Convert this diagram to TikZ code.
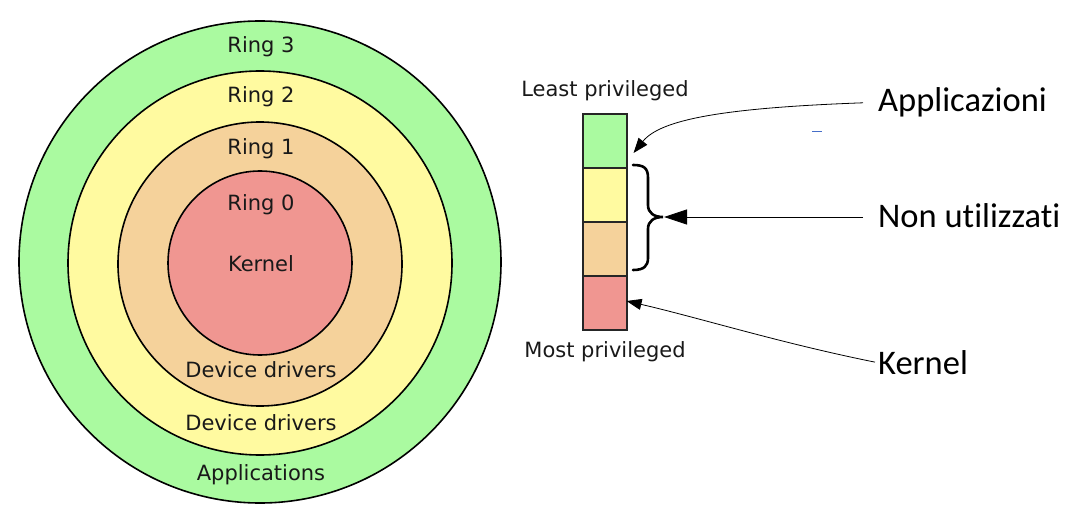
\documentclass[tikz,border=0pt]{standalone}
\usepackage{fontspec}
\setmainfont{DejaVu Sans}
\newfontfamily\labfont[Ligatures=NoCommon]{Carlito}
\usetikzlibrary{arrows.meta}
\definecolor{cgreen}{RGB}{170,250,160}
\definecolor{cyellow}{RGB}{255,250,160}
\definecolor{ctan}{RGB}{245,210,155}
\definecolor{cred}{RGB}{240,150,145}
\definecolor{cdash}{RGB}{70,110,200}
\begin{document}
\begin{tikzpicture}[x=1pt,y=-1pt,
 ring/.style={circle, draw=black, line width=1.6pt, inner sep=0pt},
 ringtext/.style={anchor=base, font=\fontsize{21}{25}\selectfont, text=black!90, inner sep=0pt},
 seg/.style={rectangle, draw=black!85, line width=1.1pt, minimum width=44pt, minimum height=54pt, inner sep=0pt},
 biglab/.style={anchor=base west, font=\labfont\fontsize{34.5}{40}\selectfont, inner sep=0pt},
 pointer/.style={line width=0.8pt, -{Triangle[length=15pt,width=11pt]}},
 bigpointer/.style={line width=0.8pt, -{Triangle[length=23pt,width=15pt]}},
 bracestyle/.style={line width=2.6pt, line cap=round}
]
\useasboundingbox (0,0) rectangle (1072,524);
% rings
\node[ring, fill=cgreen, minimum size=482pt] (r3) at (260,262) {};
\node[ring, fill=cyellow, minimum size=384pt] (r2) at (260,263) {};
\node[ring, fill=ctan, minimum size=284pt] (r1) at (260,264) {};
\node[ring, fill=cred, minimum size=184pt] (r0) at (260,263) {};
% ring texts
\node[ringtext] (t3) at (261,53) {Ring 3};
\node[ringtext] (t2) at (261,103) {Ring 2};
\node[ringtext] (t1) at (261,155) {Ring 1};
\node[ringtext] (t0) at (261,211) {Ring 0};
\node[ringtext] (tk) at (261,272) {Kernel};
\node[ringtext] (td1) at (261,377) {Device drivers};
\node[ringtext] (td2) at (261,430) {Device drivers};
\node[ringtext] (ta) at (261,480) {Applications};
% bar
\node[seg, fill=cgreen] (s3) at (605,141) {};
\node[seg, fill=cyellow] (s2) at (605,195) {};
\node[seg, fill=ctan] (s1) at (605,249) {};
\node[seg, fill=cred] (s0) at (605,303) {};
\node[ringtext] (least) at (605,97) {Least privileged};
\node[ringtext] (most) at (605,357) {Most privileged};
% right labels
\node[biglab] (lapp) at (878,112) {Applicazioni};
\node[biglab] (lnon) at (878,227) {Non utilizzati};
\node[biglab] (lker) at (878,374) {Kernel};
% brace
\draw[bracestyle] (633,165) .. controls (644,165) and (648,168) .. (648,178) -- (648,205) .. controls (648,213) and (654,217) .. (663,217) .. controls (654,217) and (648,221) .. (648,229) -- (648,258) .. controls (648,266) and (644,270) .. (633,270);
\coordinate (brtip) at (664,217);
% arrows
\coordinate (append) at ([shift={(6pt,-12pt)}]s3.east);
\draw[pointer] ([xshift=-15pt]lapp.west) .. controls (720,108) and (660,120) .. (append);
\coordinate (nstart) at ([xshift=-15pt]lnon.west);
\draw[bigpointer] (nstart |- brtip) -- (brtip);
\coordinate (kerend) at ([shift={(-1pt,2pt)}]s0.east);
\draw[pointer] ([xshift=-3pt]lker.west) .. controls (780,343) and (700,318) .. (kerend);
% stray mark
\draw[cdash, line width=1pt] (812,132) -- (822,132);
\end{tikzpicture}
\end{document}
